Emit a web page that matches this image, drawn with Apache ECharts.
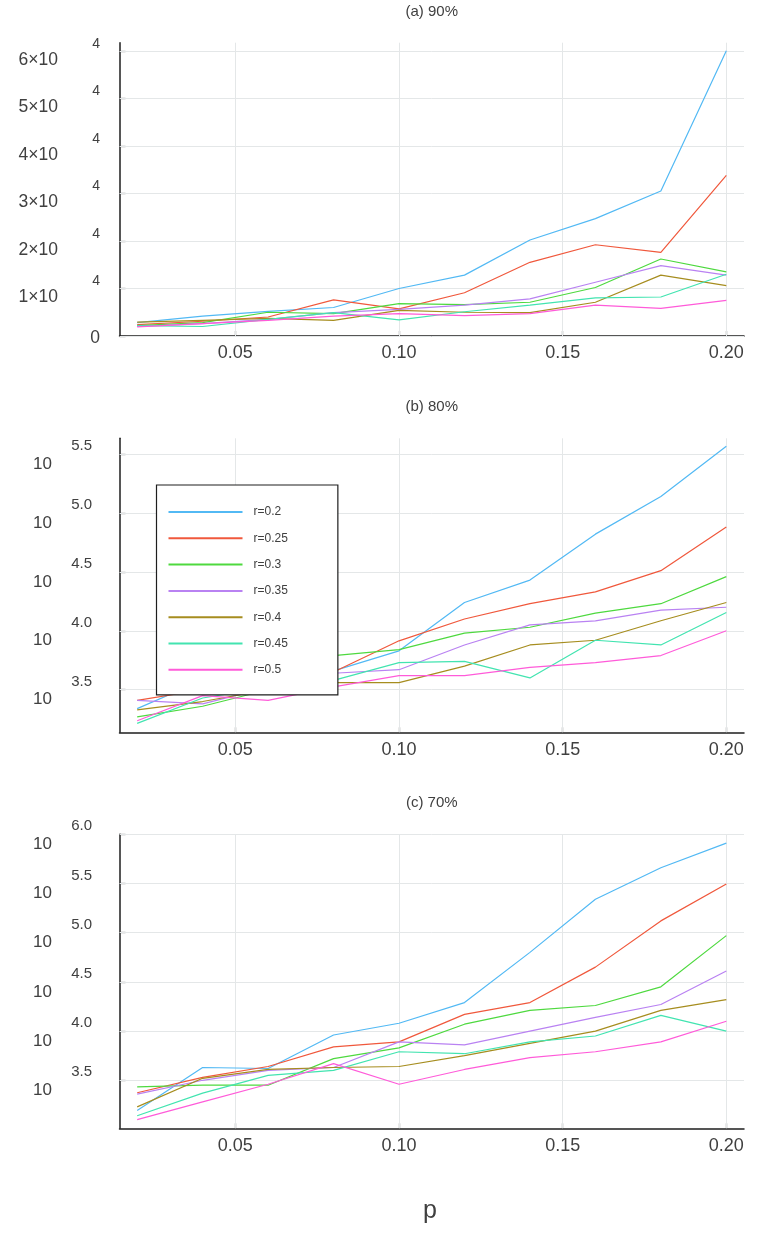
<!DOCTYPE html>
<html><head><meta charset="utf-8">
<script src="https://cdn.jsdelivr.net/npm/echarts@6/dist/echarts.min.js"></script>
<style>html,body{margin:0;padding:0;background:#fff}#c{width:773px;height:1237px}</style>
</head><body><div id="c"></div>
<script>
// ---- data ----
const pValues = [0.02, 0.04, 0.06, 0.08, 0.10, 0.12, 0.14, 0.16, 0.18, 0.20];
const seriesNames = ['r=0.2', 'r=0.25', 'r=0.3', 'r=0.35', 'r=0.4', 'r=0.45', 'r=0.5'];
const panelTitles = ['(a) 90%', '(b) 80%', '(c) 70%'];
const xTickValues = [0.05, 0.10, 0.15, 0.20];
const yTicksA = [0, 10000, 20000, 30000, 40000, 50000, 60000];
const yTicksB = [3.5, 4.0, 4.5, 5.0, 5.5];      // log10 exponents
const yTicksC = [3.5, 4.0, 4.5, 5.0, 5.5, 6.0];  // log10 exponents

// (a) 90% : linear values
const a90_r020 = [2800, 4200, 5200, 6000, 10000, 12800, 20200, 24700, 30500, 60000];
const a90_r025 = [2400, 3100, 4000, 7600, 5700, 9100, 15500, 19200, 17600, 33800];
const a90_r030 = [2200, 2800, 5000, 4700, 6800, 6600, 7100, 10200, 16200, 13500];
const a90_r035 = [2000, 2600, 3500, 4900, 5600, 6500, 7800, 11300, 14800, 12800];
const a90_r040 = [2900, 3300, 3700, 3300, 5400, 5000, 4900, 7100, 12800, 10600];
const a90_r045 = [2200, 2000, 3500, 4900, 3400, 5100, 6500, 8000, 8200, 13000];
const a90_r050 = [1900, 2600, 3300, 4200, 4700, 4300, 4700, 6500, 5800, 7500];

// (b) 80% : log10 of values
const b80_r020 = [3.34, 3.58, 3.62, 3.66, 3.83, 4.24, 4.43, 4.82, 5.14, 5.565];
const b80_r025 = [3.41, 3.50, 3.56, 3.65, 3.915, 4.10, 4.23, 4.33, 4.51, 4.88];
const b80_r030 = [3.27, 3.36, 3.50, 3.79, 3.84, 3.98, 4.03, 4.15, 4.23, 4.46];
const b80_r035 = [3.41, 3.38, 3.52, 3.64, 3.67, 3.88, 4.05, 4.085, 4.175, 4.20];
const b80_r040 = [3.33, 3.40, 3.50, 3.56, 3.56, 3.70, 3.88, 3.92, 4.085, 4.24];
const b80_r045 = [3.215, 3.43, 3.52, 3.58, 3.73, 3.74, 3.60, 3.92, 3.88, 4.155];
const b80_r050 = [3.237, 3.45, 3.41, 3.525, 3.62, 3.62, 3.69, 3.73, 3.79, 4.00];

// (c) 70% : log10 of values
const c70_r020 = [3.193, 3.63, 3.62, 3.96, 4.08, 4.29, 4.80, 5.34, 5.66, 5.91];
const c70_r025 = [3.373, 3.53, 3.64, 3.84, 3.89, 4.17, 4.29, 4.65, 5.12, 5.495];
const c70_r030 = [3.434, 3.45, 3.45, 3.72, 3.83, 4.07, 4.21, 4.26, 4.45, 4.97];
const c70_r035 = [3.36, 3.50, 3.60, 3.63, 3.89, 3.86, 4.00, 4.14, 4.27, 4.61];
const c70_r040 = [3.23, 3.52, 3.61, 3.63, 3.64, 3.75, 3.875, 4.00, 4.21, 4.32];
const c70_r045 = [3.14, 3.37, 3.55, 3.60, 3.79, 3.77, 3.89, 3.95, 4.16, 4.00];
const c70_r050 = [3.10, 3.28, 3.46, 3.67, 3.46, 3.61, 3.73, 3.79, 3.89, 4.10];

const panelA = [a90_r020, a90_r025, a90_r030, a90_r035, a90_r040, a90_r045, a90_r050];
const panelB = [b80_r020, b80_r025, b80_r030, b80_r035, b80_r040, b80_r045, b80_r050];
const panelC = [c70_r020, c70_r025, c70_r030, c70_r035, c70_r040, c70_r045, c70_r050];

// ---- style ----
const colors = ['#52B9F4', '#F0583C', '#4ED93F', '#B982F2', '#A68D1F', '#42E4B0', '#FF5BD9'];
const FONT = '"Liberation Sans", Arial, sans-serif';
const TXT = '#404040';
const AXC = '#1e1e1e';
const gridPos = [
  {top: 42.7, height: 293.3, ymin: 0, ymax: 61700, yt: yTicksA},
  {top: 438.3, height: 294, ymin: 3.139, ymax: 5.633, yt: yTicksB},
  {top: 834.3, height: 294, ymin: 3.012, ymax: 6.0, yt: yTicksC}
];
const LEFT = 119.5, WIDTH = 624.5;
const XMIN = 0.0146, XMAX = 0.2054;

const grids = [], xAxes = [], yAxes = [], series = [];
gridPos.forEach((g, i) => {
  grids.push({left: LEFT, top: g.top, width: WIDTH, height: g.height, containLabel: false});
  xAxes.push({
    type: 'value', gridIndex: i, min: XMIN, max: XMAX,
    axisLine: {show: true, onZero: false, lineStyle: {color: AXC, width: 1.5}},
    axisTick: {show: true, inside: true, length: 5, customValues: xTickValues, lineStyle: {color: AXC, width: 1.2}},
    axisLabel: {customValues: xTickValues, formatter: v => v.toFixed(2), fontSize: 18, color: TXT, fontFamily: FONT, margin: 8.5},
    splitLine: {show: false}
  });
  const isA = i === 0;
  yAxes.push({
    type: 'value', gridIndex: i, min: g.ymin, max: g.ymax,
    axisLine: {show: true, lineStyle: {color: AXC, width: 1.5}},
    axisTick: {show: true, inside: true, length: 6, customValues: g.yt, lineStyle: {color: AXC, width: 1.2}},
    axisLabel: {
      customValues: g.yt,
      margin: isA ? 19.5 : 27.5,
      fontFamily: FONT, color: TXT,
      formatter: isA
        ? (v => v === 0 ? '{z|0}' : '{e|4}\n{b|' + Math.round(v / 10000) + '×10}')
        : (v => '{e|' + v.toFixed(1) + '}\n{b|10}'),
      rich: isA ? {
        e: {fontSize: 14, lineHeight: 18, color: TXT, fontFamily: FONT},
        b: {fontSize: 17.5, lineHeight: 14, color: TXT, fontFamily: FONT, padding: [0, 42, 0, 0]},
        z: {fontSize: 17.5, color: TXT, fontFamily: FONT, padding: [4, 0, 0, 0]}
      } : {
        e: {fontSize: 15, lineHeight: 20, color: TXT, fontFamily: FONT},
        b: {fontSize: 17, lineHeight: 16, color: TXT, fontFamily: FONT, padding: [0, 40, 0, 0]}
      }
    },
    splitLine: {show: false}
  });
  // faint grid lines through the axes' scales
  series.push({
    type: 'line', name: 'grid' + i, xAxisIndex: i, yAxisIndex: i, data: [], z: 1, silent: true,
    markLine: {
      silent: true, z: 1, symbol: 'none', animation: false,
      label: {show: false},
      lineStyle: {color: '#e4e7e8', width: 1, type: 'solid'},
      emphasis: {disabled: true},
      data: xTickValues.map(v => ({xAxis: v})).concat(g.yt.map(v => ({yAxis: v})))
    }
  });
  const panel = [panelA, panelB, panelC][i];
  panel.forEach((vals, k) => {
    series.push({
      type: 'line', name: seriesNames[k], xAxisIndex: i, yAxisIndex: i,
      data: pValues.map((p, j) => [p, vals[j]]),
      symbol: 'none', showSymbol: false, clip: true, z: 2,
      lineStyle: {color: colors[k], width: 1.2},
      itemStyle: {color: colors[k]},
      emphasis: {disabled: true}
    });
  });
});

const titleY = [12, 406.7, 802.7];
const graphics = panelTitles.map((t, i) => ({
  type: 'text', x: LEFT + WIDTH / 2, y: titleY[i], silent: true,
  style: {text: t, align: 'center', verticalAlign: 'middle', fontSize: 15, fontFamily: FONT, fill: TXT}
}));
graphics.push({
  type: 'text', x: 430, y: 1211, silent: true,
  style: {text: 'p', align: 'center', verticalAlign: 'middle', fontSize: 25, fontFamily: FONT, fill: TXT}
});

const option = {
  animation: false,
  backgroundColor: '#fff',
  color: colors,
  grid: grids, xAxis: xAxes, yAxis: yAxes, series: series,
  graphic: graphics,
  legend: {
    data: seriesNames, orient: 'vertical', left: 156.5, top: 485,
    padding: [21, 50, 19, 12], itemWidth: 74, itemHeight: 2, itemGap: 14.3,
    icon: 'rect',
    backgroundColor: '#fff', borderColor: AXC, borderWidth: 1.2, borderRadius: 0,
    textStyle: {fontSize: 12, color: TXT, fontFamily: FONT, padding: [0, 0, 0, 6]},
    selectedMode: false, z: 10
  }
};
const chart = echarts.init(document.getElementById('c'), null, {renderer: 'canvas'});
chart.setOption(option);
</script></body></html>
